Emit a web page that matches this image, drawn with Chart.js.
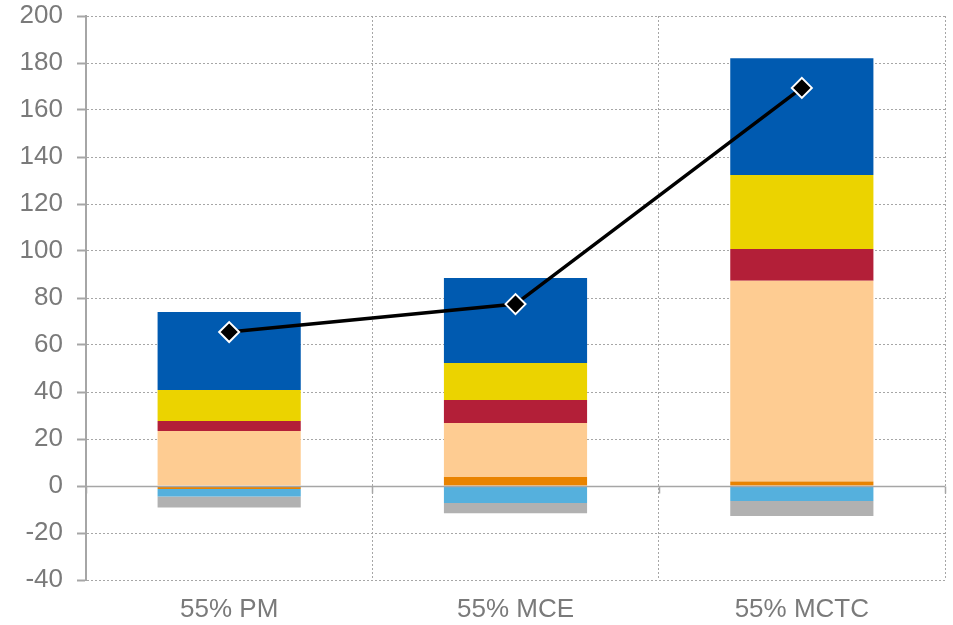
<!DOCTYPE html>
<html>
<head>
<meta charset="utf-8">
<script src="https://cdn.jsdelivr.net/npm/chart.js@4/dist/chart.umd.min.js"></script>
<style>
  html, body { margin: 0; padding: 0; background: #ffffff; }
  #wrap { width: 953px; height: 625px; }
</style>
</head>
<body>
<div id="wrap"><canvas id="c" width="953" height="625"></canvas></div>
<script>
const categories = ["55% PM", "55% MCE", "55% MCTC"];
const orangeVals   = [-1.3, 3.8, 1.9];
const lightBlueVals = [-3.2, -7.2, -6.4];
const grayVals     = [-4.6, -4.4, -6.4];
const peachVals    = [23.4, 23.0, 85.4];
const redVals      = [4.3, 9.8, 13.6];
const yellowVals   = [13.2, 15.7, 31.4];
const blueVals     = [33.1, 36.2, 49.7];
const lineVals     = [65.5, 77.4, 169.4];
const yMin = -40, yMax = 200, yStep = 20;

const textColor = '#7a7a7a';
const gridColor = '#a6a6a6';

const zeroLine = {
  id: 'zeroLine',
  afterDatasetsDraw(chart) {
    const { ctx, chartArea, scales } = chart;
    const y0 = Math.round(scales.y.getPixelForValue(0)) + 0.5;
    ctx.save();
    ctx.strokeStyle = '#a6a6a6';
    ctx.lineWidth = 1.5;
    ctx.beginPath();
    ctx.moveTo(chartArea.left, y0);
    ctx.lineTo(chartArea.right, y0);
    const n = categories.length;
    for (let i = 0; i <= n; i++) {
      let x;
      if (i === 0) x = chartArea.left;
      else if (i === n) x = chartArea.right;
      else x = (scales.x.getPixelForValue(i - 1) + scales.x.getPixelForValue(i)) / 2;
      x = Math.round(x) + 0.5;
      ctx.moveTo(x, y0);
      ctx.lineTo(x, y0 + 7);
    }
    ctx.stroke();
    ctx.restore();
  }
};

function barDs(label, data, color) {
  return { type: 'bar', label, data, backgroundColor: color, borderWidth: 0, stack: 'bars', order: 1 };
}

new Chart(document.getElementById('c'), {
  data: {
    labels: categories,
    datasets: [
      { type: 'line', label: 'Total', data: lineVals, stack: 'line', order: 0,
        borderColor: '#000000', borderWidth: 3.5, tension: 0,
        pointStyle: 'rectRot', pointRadius: 10, pointHoverRadius: 10,
        pointBackgroundColor: '#000000', pointBorderColor: '#ffffff', pointBorderWidth: 2 },
      barDs('Orange', orangeVals, '#e98300'),
      barDs('Light blue', lightBlueVals, '#55b0dd'),
      barDs('Gray', grayVals, '#b1b1b1'),
      barDs('Peach', peachVals, '#fecc92'),
      barDs('Red', redVals, '#b31f38'),
      barDs('Yellow', yellowVals, '#ebd300'),
      barDs('Blue', blueVals, '#005ab0')
    ]
  },
  options: {
    responsive: false,
    animation: false,
    devicePixelRatio: 1,
    layout: { autoPadding: false, padding: { top: 16, right: 8, bottom: 0, left: 0 } },
    plugins: { legend: { display: false }, tooltip: { enabled: false } },
    datasets: { bar: { categoryPercentage: 1.0, barPercentage: 0.5 } },
    scales: {
      x: {
        stacked: true,
        offset: true,
        afterFit(s) { s.height = 45; s.paddingLeft = 0; s.paddingRight = 0; },
        grid: { offset: true, color: gridColor, lineWidth: 1, drawTicks: false },
        border: { display: false, dash: [2, 2] },
        ticks: { color: textColor, font: { family: 'Liberation Sans, Arial', size: 26, lineHeight: 1 }, padding: 17 }
      },
      y: {
        stacked: true,
        min: yMin, max: yMax,
        afterFit(s) { s.width = 86; s.paddingTop = 0; s.paddingBottom = 0; },
        grid: { color: gridColor, lineWidth: 1, drawTicks: true, tickLength: 9, tickColor: '#a6a6a6', tickWidth: 2 },
        border: { display: true, color: '#a6a6a6', width: 2, dash: [2, 2] },
        ticks: { stepSize: yStep, color: textColor, font: { family: 'Liberation Sans, Arial', size: 26 }, padding: 14 }
      }
    }
  },
  plugins: [zeroLine]
});
</script>
</body>
</html>
